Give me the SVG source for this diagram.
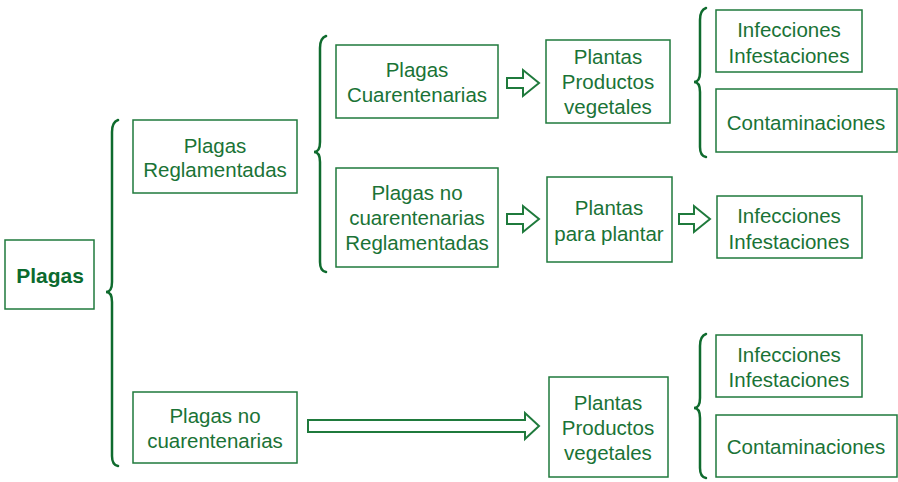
<svg xmlns="http://www.w3.org/2000/svg" width="898" height="482" viewBox="0 0 898 482">
<style>
.box{fill:#fff;stroke:#1f7a3c;stroke-width:1.5}
.t{font-family:"Liberation Sans",Arial,sans-serif;font-size:20.5px;fill:#1a7336;text-anchor:middle}
.b{font-family:"Liberation Sans",Arial,sans-serif;font-size:21px;font-weight:bold;fill:#0b6a2e;text-anchor:middle}
.brace{fill:none;stroke:#0f6b2e;stroke-width:2.5;stroke-linecap:round}
.arr{fill:#fff;stroke:#1f7a3c;stroke-width:2;stroke-linejoin:miter}
</style>
<rect width="898" height="482" fill="#fff"/>
<g id="connectors">
<path class="brace" d="M118,120 Q112,122 112,132 L112,282 Q112,292 106,292 Q112,292 112,302 L112,456 Q112,465 118,466"/>
<path class="brace" d="M326,36 Q320,38 320,48 L320,142 Q320,152 314,152 Q320,152 320,162 L320,262 Q320,271 326,272"/>
<path class="brace" d="M706,8 Q700,10 700,20 L700,72 Q700,82 694,82 Q700,82 700,92 L700,147 Q700,156 706,157"/>
<path class="brace" d="M706,334 Q700,336 700,346 L700,398 Q700,408 694,408 Q700,408 700,418 L700,468 Q700,477 706,478"/>
<polygon class="arr" points="507,78 523,78 523,70 539,83 523,96 523,88 507,88"/>
<polygon class="arr" points="507,214 523,214 523,206 539,219 523,232 523,224 507,224"/>
<polygon class="arr" points="679,214 694,214 694,206 710,219 694,232 694,224 679,224"/>
<polygon class="arr" points="308,420 525,420 525,413 539,426 525,439 525,432 308,432"/>
</g>
<g id="plagas"><rect class="box" x="5" y="240" width="89" height="69"/><text class="b" x="50" y="283">Plagas</text></g>
<g id="reglamentadas"><rect class="box" x="133" y="120" width="164" height="73"/><text class="t" x="215" y="153">Plagas</text><text class="t" x="215" y="177">Reglamentadas</text></g>
<g id="cuarentenarias"><rect class="box" x="336" y="45" width="162" height="73"/><text class="t" x="417" y="77">Plagas</text><text class="t" x="417" y="102">Cuarentenarias</text></g>
<g id="noCuarReg"><rect class="box" x="336" y="168" width="162" height="99"/><text class="t" x="417" y="200">Plagas no</text><text class="t" x="417" y="225">cuarentenarias</text><text class="t" x="417" y="250">Reglamentadas</text></g>
<g id="noCuar"><rect class="box" x="133" y="392" width="164" height="71"/><text class="t" x="215" y="423">Plagas no</text><text class="t" x="215" y="448">cuarentenarias</text></g>
<g id="plantasTop"><rect class="box" x="546" y="40" width="124" height="83"/><text class="t" x="608" y="64">Plantas</text><text class="t" x="608" y="89">Productos</text><text class="t" x="608" y="114">vegetales</text></g>
<g id="plantasPlantar"><rect class="box" x="547" y="177" width="125" height="85"/><text class="t" x="609" y="215">Plantas</text><text class="t" x="609" y="241">para plantar</text></g>
<g id="plantasBottom"><rect class="box" x="549" y="377" width="119" height="100"/><text class="t" x="608" y="410">Plantas</text><text class="t" x="608" y="435">Productos</text><text class="t" x="608" y="460">vegetales</text></g>
<g id="infTop"><rect class="box" x="716" y="10" width="146" height="62"/><text class="t" x="789" y="37">Infecciones</text><text class="t" x="789" y="63">Infestaciones</text></g>
<g id="contTop"><rect class="box" x="716" y="89" width="181" height="63"/><text class="t" x="806" y="130">Contaminaciones</text></g>
<g id="infMid"><rect class="box" x="717" y="196" width="145" height="62"/><text class="t" x="789" y="223">Infecciones</text><text class="t" x="789" y="249">Infestaciones</text></g>
<g id="infBottom"><rect class="box" x="716" y="335" width="146" height="62"/><text class="t" x="789" y="362">Infecciones</text><text class="t" x="789" y="387">Infestaciones</text></g>
<g id="contBottom"><rect class="box" x="716" y="415" width="181" height="62"/><text class="t" x="806" y="454">Contaminaciones</text></g>
</svg>
